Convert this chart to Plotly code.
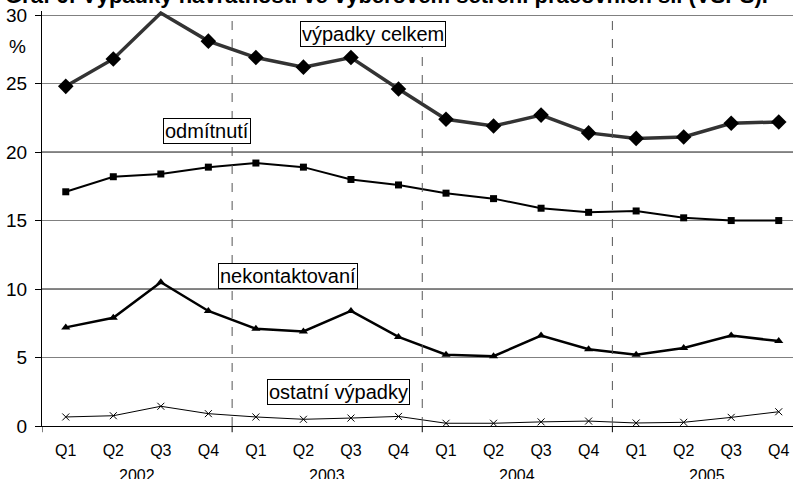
import plotly.graph_objects as go

quarters = ["Q1", "Q2", "Q3", "Q4"] * 4
years = ["2002", "2003", "2004", "2005"]
vypadky_celkem = [24.8, 26.8, 30.15, 28.1, 26.9, 26.2, 26.9, 24.6, 22.4, 21.9, 22.7, 21.4, 21.0, 21.1, 22.1, 22.2]
odmitnuti = [17.1, 18.2, 18.4, 18.9, 19.2, 18.9, 18.0, 17.6, 17.0, 16.6, 15.9, 15.6, 15.7, 15.2, 15.0, 15.0]
nekontaktovani = [7.2, 7.9, 10.5, 8.4, 7.1, 6.9, 8.4, 6.5, 5.2, 5.1, 6.6, 5.6, 5.2, 5.7, 6.6, 6.2]
ostatni = [0.66, 0.75, 1.44, 0.9, 0.66, 0.49, 0.58, 0.7, 0.2, 0.2, 0.3, 0.36, 0.22, 0.27, 0.63, 1.04]
title = "Graf 6: Výpadky návratnosti ve výběrovém šetření pracovních sil (VŠPS)."

FONT = "Arial, 'Liberation Sans', sans-serif"
YMAX = 30
x = list(range(len(quarters)))

fig = go.Figure()

# hide markers beyond the axis maximum (like the original)
celkem_sizes = [0 if v > YMAX else 12 for v in vypadky_celkem]

fig.add_trace(go.Scatter(x=x, y=vypadky_celkem, mode="lines+markers",
                         line=dict(color="#333333", width=3.5),
                         marker=dict(symbol="diamond", size=celkem_sizes, color="black",
                                     opacity=1, line=dict(color="black", width=0)),
                         cliponaxis=False, showlegend=False))
fig.add_trace(go.Scatter(x=x, y=odmitnuti, mode="lines+markers",
                         line=dict(color="black", width=2),
                         marker=dict(symbol="square", size=7, color="black"),
                         showlegend=False))
fig.add_trace(go.Scatter(x=x, y=nekontaktovani, mode="lines+markers",
                         line=dict(color="black", width=2.5),
                         marker=dict(symbol="triangle-up", size=8, color="black"),
                         showlegend=False))
fig.add_trace(go.Scatter(x=x, y=ostatni, mode="lines+markers",
                         line=dict(color="black", width=1),
                         marker=dict(symbol="x-thin", size=7, color="black",
                                     line=dict(color="black", width=1)),
                         showlegend=False))

shapes = []
# black grid lines at 10 and 20
for yv in (10, 20):
    shapes.append(dict(type="line", xref="paper", x0=0, x1=1, yref="y", y0=yv, y1=yv,
                       line=dict(color="black", width=1), layer="below"))
# dashed year separators
n_per_year = 4
for i in range(1, len(years)):
    xb = i * n_per_year - 0.5
    shapes.append(dict(type="line", xref="x", x0=xb, x1=xb, yref="y", y0=0, y1=YMAX,
                       line=dict(color="#555555", width=1, dash="dash")))
# tick marks at year boundaries below the axis
for i in range(0, len(years)):
    xb = i * n_per_year - 0.5
    shapes.append(dict(type="line", xref="x", x0=xb, x1=xb, yref="paper", y0=0, y1=-0.015,
                       line=dict(color="black", width=1)))

annotations = []
for i, yr in enumerate(years):
    annotations.append(dict(x=i * n_per_year + 1.5, xref="x", y=-0.095, yref="paper",
                            yanchor="top", text=yr, showarrow=False,
                            font=dict(size=16, color="black", family=FONT)))

labels = [("výpadky celkem", 6.46, 28.64), ("odmítnutí", 2.97, 21.54),
          ("nekontaktovaní", 4.67, 10.97), ("ostatní výpadky", 5.73, 2.48)]
for txt, lx, ly in labels:
    annotations.append(dict(x=lx, y=ly, xref="x", yref="y", text=txt, showarrow=False,
                            font=dict(size=20, color="black", family=FONT),
                            bgcolor="white", bordercolor="black", borderwidth=1, borderpad=1))

annotations.append(dict(x=-0.033, xref="paper", y=0.915, yref="paper", text="%",
                        showarrow=False, xanchor="center", yanchor="middle",
                        font=dict(size=19, color="black", family=FONT)))
annotations.append(dict(x=-0.052, xref="paper", y=1.038, yref="paper", text="<b>" + title + "</b>",
                        showarrow=False, xanchor="left", yanchor="middle",
                        font=dict(size=22, color="black", family=FONT)))

fig.update_layout(
    width=793, height=479,
    margin=dict(l=42, r=0, t=11, b=53),
    paper_bgcolor="white", plot_bgcolor="white",
    font=dict(family=FONT, color="black"),
    xaxis=dict(range=[-0.5, 15.3], tickvals=x, ticktext=quarters, automargin=False,
               ticks="outside", ticklen=10, tickcolor="rgba(0,0,0,0)",
               showgrid=False, zeroline=False, showline=True, linecolor="black", linewidth=1,
               tickfont=dict(size=16, family=FONT, color="black")),
    yaxis=dict(range=[0, 30.3], tickvals=[0, 5, 10, 15, 20, 25, 30], automargin=False,
               ticks="outside", ticklen=6, tickcolor="black", ticklabelstandoff=4,
               showgrid=True, gridcolor="#808080", gridwidth=1,
               zeroline=False, showline=True, linecolor="black", linewidth=1,
               tickfont=dict(size=19, family=FONT, color="black")),
    shapes=shapes, annotations=annotations,
)

fig.write_html("out.html", config={"displayModeBar": False},
               post_script="document.body.style.margin='0';document.body.style.overflow='hidden';")
